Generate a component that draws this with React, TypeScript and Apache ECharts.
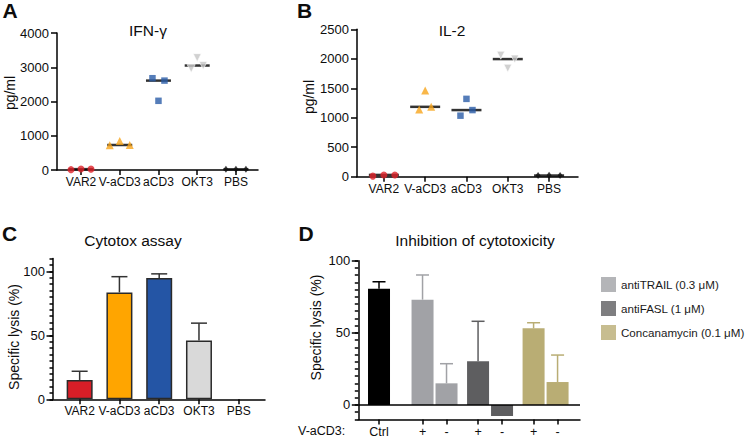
import React, { useEffect, useRef } from "react";
import * as echarts from "echarts";

// ---------- data ----------
const groups = ["VAR2", "V-aCD3", "aCD3", "OKT3", "PBS"];
const groupColors = ["#e0232b", "#f7a51c", "#2b5ca8", "#c6c6c6", "#111111"];
const groupSymbols = ["circle", "triangle", "rect", "triangle", "diamond"];

// replicate values per group (left, centre, right)
const ifnGamma = [
  [10, 30, 25],
  [720, 850, 730],
  [2680, 2020, 2610],
  [2960, 3280, 3050],
  [20, 25, 20],
];
const il2 = [
  [10, 30, 30],
  [1140, 1460, 1185],
  [1035, 1320, 1130],
  [2060, 1840, 1995],
  [20, 25, 20],
];

const lysisMean = [15.1, 83.5, 94.8, 45.9, null];
const lysisSd = [6.8, 12.3, 3.2, 13.6, null];
const lysisColors = ["#d81e27", "#ffa500", "#2455a5", "#d9d9d9", "#ffffff"];

const inhibitors = ["antiTRAIL (0.3 μM)", "antiFASL (1 μM)", "Concanamycin (0.1 μM)"];
const inhibitorColors = ["#a1a2a6", "#5e5e60", "#b9ad74"];
const ctrlMean = 80.6;
const ctrlSd = 4.8;
const plusMean = [73, 30.3, 53.1];
const plusSd = [17.1, 27.7, 3.9];
const minusMean = [15, -7.6, 15.9];
const minusSd = [13.6, null, 18.7];
const vaCD3Labels = ["Ctrl", "+", "-"];

// ---------- style constants ----------
const FONT = "'Liberation Sans', Arial, Helvetica, sans-serif";
const TXT = "#0d0d0d";
const jitterA = [10, 10, 6, 6, 10];
const jitterB = [11, 6, 6, 7, 11];
const pairOffset = 0.216;

function median(a: number[]) {
  const s = [...a].sort((x, y) => x - y);
  return s[Math.floor(s.length / 2)];
}

function scatterPanel(vals: number[][], axisIdx: number, spread: number[], lineW: number) {
  const out: any[] = [];
  out.push({
    type: "scatter",
    xAxisIndex: axisIdx,
    yAxisIndex: axisIdx,
    symbol: "rect",
    symbolSize: [lineW, 2.5],
    itemStyle: { color: "#000" },
    z: 2,
    silent: true,
    data: vals.map((v, i) => [i, median(v)]),
  });
  groups.forEach((g, i) => {
    const isDown = i === 3;
    out.push({
      type: "scatter",
      name: g,
      xAxisIndex: axisIdx,
      yAxisIndex: axisIdx,
      symbol: groupSymbols[i],
      symbolSize: i === 0 ? 7 : i === 1 ? 8 : i === 2 ? 6.5 : i === 3 ? 8 : [5, 7],
      symbolRotate: isDown ? 180 : 0,
      itemStyle: {
        color: groupColors[i],
        borderColor: isDown ? "#ffffff" : groupColors[i],
        borderWidth: isDown ? 0.8 : 0,
      },
      z: 3,
      silent: true,
      data: vals[i].map((v, j) => ({ value: [i, v], symbolOffset: [(j - 1) * spread[i], 0] })),
    });
  });
  return out;
}

function errRender(colors: string[], capW: number) {
  return (params: any, api: any) => {
    const x = api.value(0);
    const y = api.value(1);
    const e = api.value(2);
    const p0 = api.coord([x, y]);
    const p1 = api.coord([x, y + e]);
    const c = colors[params.dataIndex];
    return {
      type: "group",
      children: [
        { type: "line", shape: { x1: p0[0], y1: p0[1], x2: p1[0], y2: p1[1] }, style: { stroke: c, lineWidth: 1.5 } },
        {
          type: "line",
          shape: { x1: p1[0] - capW / 2, y1: p1[1], x2: p1[0] + capW / 2, y2: p1[1] },
          style: { stroke: c, lineWidth: 1.5 },
        },
      ],
    };
  };
}

const axisLine = { show: true, onZero: false, lineStyle: { color: "#000", width: 1.5 } };
const tickStyle = { color: "#000", width: 1.5 };

function catXAxis(grid: number, min: number, max: number) {
  const vals = groups.map((_, i) => i);
  return {
    gridIndex: grid,
    type: "value",
    min,
    max,
    axisLine,
    axisTick: { show: true, customValues: vals, length: 5, lineStyle: tickStyle },
    axisLabel: {
      customValues: vals,
      formatter: (v: number) => groups[Math.round(v)],
      fontSize: 12,
      color: TXT,
      fontFamily: FONT,
      margin: 6,
    },
    splitLine: { show: false },
  };
}

function textEl(text: string, x: number, y: number, size: number, opts: any = {}) {
  return {
    type: "text",
    x,
    y,
    rotation: opts.rotation || 0,
    silent: true,
    style: {
      text,
      fill: TXT,
      fontSize: size,
      fontFamily: FONT,
      fontWeight: opts.bold ? "bold" : "normal",
      align: opts.align || "center",
      verticalAlign: "middle",
      textAlign: opts.align || "center",
      textVerticalAlign: "middle",
    },
  };
}

export default function App() {
  const ref = useRef<HTMLDivElement>(null);

  useEffect(() => {
    document.body.style.margin = "0";
    if (!ref.current) return;
    const chart = echarts.init(ref.current, undefined, { renderer: "svg" });

    // Panel C data
    const cIdx = lysisMean.map((v, i) => i).filter((i) => lysisMean[i] != null);
    const cBars = cIdx.map((i) => ({ value: [i, lysisMean[i]], itemStyle: { color: lysisColors[i] } }));
    const cErr = cIdx.map((i) => [i, lysisMean[i], lysisSd[i]]);
    const cErrColors = cIdx.map(() => "#333333");

    // Panel D data
    const dItems: { x: number; v: number; sd: number | null; color: string; label: string }[] = [];
    dItems.push({ x: 0, v: ctrlMean, sd: ctrlSd, color: "#000000", label: vaCD3Labels[0] });
    inhibitors.forEach((_, t) => {
      dItems.push({ x: t + 1 - pairOffset, v: plusMean[t], sd: plusSd[t], color: inhibitorColors[t], label: vaCD3Labels[1] });
      dItems.push({ x: t + 1 + pairOffset, v: minusMean[t], sd: minusSd[t], color: inhibitorColors[t], label: vaCD3Labels[2] });
    });
    const dTickVals = dItems.map((d) => d.x);
    const dErrItems = dItems.filter((d) => d.sd != null);

    const minorC: number[] = [];
    for (let v = 0; v <= 110; v += 5) minorC.push(v);
    const minorD: number[] = [];
    for (let v = -10; v <= 100; v += 5) minorD.push(v);

    const yLabel = {
      fontSize: 13,
      color: TXT,
      fontFamily: FONT,
      margin: 8,
      formatter: (v: number) => String(v),
    };

    const option: any = {
      animation: false,
      backgroundColor: "#ffffff",
      textStyle: { fontFamily: FONT },
      grid: [
        { left: 57, top: 33, width: 201, height: 137, outerBoundsMode: "none" },
        { left: 357, top: 29.3, width: 221, height: 147.4, outerBoundsMode: "none" },
        { left: 53, top: 258.5, width: 212, height: 140.8, outerBoundsMode: "none" },
        { left: 358.3, top: 260.7, width: 221.7, height: 158.7, outerBoundsMode: "none" },
      ],
      xAxis: [
        catXAxis(0, -0.62, 4.57),
        catXAxis(1, -0.65, 4.7),
        catXAxis(2, -0.67, 4.66),
        {
          gridIndex: 3,
          type: "value",
          min: -0.373,
          max: 3.62,
          axisLine,
          axisTick: { show: true, customValues: dTickVals, length: 5, lineStyle: tickStyle },
          axisLabel: {
            customValues: dTickVals,
            formatter: (v: number) => {
              let best = 0;
              dTickVals.forEach((t, i) => {
                if (Math.abs(t - v) < Math.abs(dTickVals[best] - v)) best = i;
              });
              return dItems[best].label;
            },
            fontSize: 12.5,
            color: TXT,
            fontFamily: FONT,
            margin: 6,
          },
          splitLine: { show: false },
        },
      ],
      yAxis: [
        {
          gridIndex: 0,
          type: "value",
          min: 0,
          max: 4000,
          interval: 1000,
          axisLine,
          axisTick: { show: true, length: 6, lineStyle: tickStyle },
          axisLabel: yLabel,
          splitLine: { show: false },
        },
        {
          gridIndex: 1,
          type: "value",
          min: 0,
          max: 2500,
          interval: 500,
          axisLine,
          axisTick: { show: true, length: 6, lineStyle: tickStyle },
          axisLabel: yLabel,
          splitLine: { show: false },
        },
        {
          gridIndex: 2,
          type: "value",
          position: "left",
          min: 0,
          max: 110,
          axisLine,
          axisTick: { show: true, customValues: minorC, length: 3.5, lineStyle: tickStyle },
          axisLabel: { ...yLabel, customValues: [0, 50, 100] },
          splitLine: { show: false },
        },
        {
          gridIndex: 2,
          type: "value",
          position: "left",
          min: 0,
          max: 110,
          axisLine: { show: false, onZero: false },
          axisTick: { show: true, customValues: [0, 50, 100], length: 6.5, lineStyle: tickStyle },
          axisLabel: { show: false },
          splitLine: { show: false },
        },
        {
          gridIndex: 3,
          type: "value",
          position: "left",
          min: -10,
          max: 100,
          axisLine,
          axisTick: { show: true, customValues: minorD, length: 3.5, lineStyle: tickStyle },
          axisLabel: { ...yLabel, customValues: [0, 50, 100] },
          splitLine: { show: false },
        },
        {
          gridIndex: 3,
          type: "value",
          position: "left",
          min: -10,
          max: 100,
          axisLine: { show: false, onZero: false },
          axisTick: { show: true, customValues: [0, 50, 100], length: 6.5, lineStyle: tickStyle },
          axisLabel: { show: false },
          splitLine: { show: false },
        },
      ],
      legend: {
        data: inhibitors,
        orient: "vertical",
        left: 596,
        top: 272,
        itemWidth: 15,
        itemHeight: 15,
        itemGap: 9,
        icon: "rect",
        selectedMode: false,
        textStyle: { fontSize: 11.6, color: "#1a1a1a", fontFamily: FONT },
      },
      series: [
        ...scatterPanel(ifnGamma, 0, jitterA, 25),
        ...scatterPanel(il2, 1, jitterB, 30),
        {
          type: "bar",
          xAxisIndex: 2,
          yAxisIndex: 2,
          barWidth: 26,
          itemStyle: { borderColor: "#2a2a2a", borderWidth: 1.5 },
          silent: true,
          data: cBars,
          z: 2,
        },
        {
          type: "custom",
          xAxisIndex: 2,
          yAxisIndex: 2,
          renderItem: errRender(cErrColors, 16),
          encode: { x: 0, y: [1, 2] },
          data: cErr,
          silent: true,
          z: 3,
        },
        {
          type: "bar",
          xAxisIndex: 3,
          yAxisIndex: 4,
          barWidth: 22,
          silent: true,
          data: dItems.map((d) => ({ value: [d.x, d.v], itemStyle: { color: d.color } })),
          z: 2,
          markLine: {
            silent: true,
            symbol: ["none", "none"],
            label: { show: false },
            lineStyle: { color: "#000", width: 1.5, type: "solid" },
            data: [{ yAxis: 0 }],
          },
        },
        {
          type: "custom",
          xAxisIndex: 3,
          yAxisIndex: 4,
          renderItem: errRender(dErrItems.map((d) => d.color), 13),
          encode: { x: 0, y: [1, 2] },
          data: dErrItems.map((d) => [d.x, d.v, d.sd]),
          silent: true,
          z: 3,
        },
        ...inhibitors.map((name, t) => ({
          type: "scatter",
          name,
          xAxisIndex: 3,
          yAxisIndex: 4,
          data: [],
          itemStyle: { color: inhibitorColors[t] },
        })),
      ],
      graphic: [
        textEl("A", 10, 10.5, 21, { bold: true }),
        textEl("B", 304.5, 10.5, 21, { bold: true }),
        textEl("C", 9.5, 233.5, 21, { bold: true }),
        textEl("D", 306, 233.5, 21, { bold: true }),
        textEl("IFN-γ", 148, 30.5, 15.5),
        textEl("IL-2", 452, 30, 15.5),
        textEl("Cytotox assay", 133, 240, 15.5),
        textEl("Inhibition of cytotoxicity", 475, 240, 15.5),
        textEl("pg/ml", 9.5, 93, 14, { rotation: Math.PI / 2 }),
        textEl("pg/ml", 309, 97, 14, { rotation: Math.PI / 2 }),
        textEl("Specific lysis (%)", 13.5, 337, 14, { rotation: Math.PI / 2 }),
        textEl("Specific lysis (%)", 315.5, 327.5, 14, { rotation: Math.PI / 2 }),
        textEl("V-aCD3:", 298, 430.5, 12.5, { align: "left" }),
      ],
    };

    chart.setOption(option);
    return () => chart.dispose();
  }, []);

  return <div ref={ref} style={{ width: 750, height: 440 }} />;
}
